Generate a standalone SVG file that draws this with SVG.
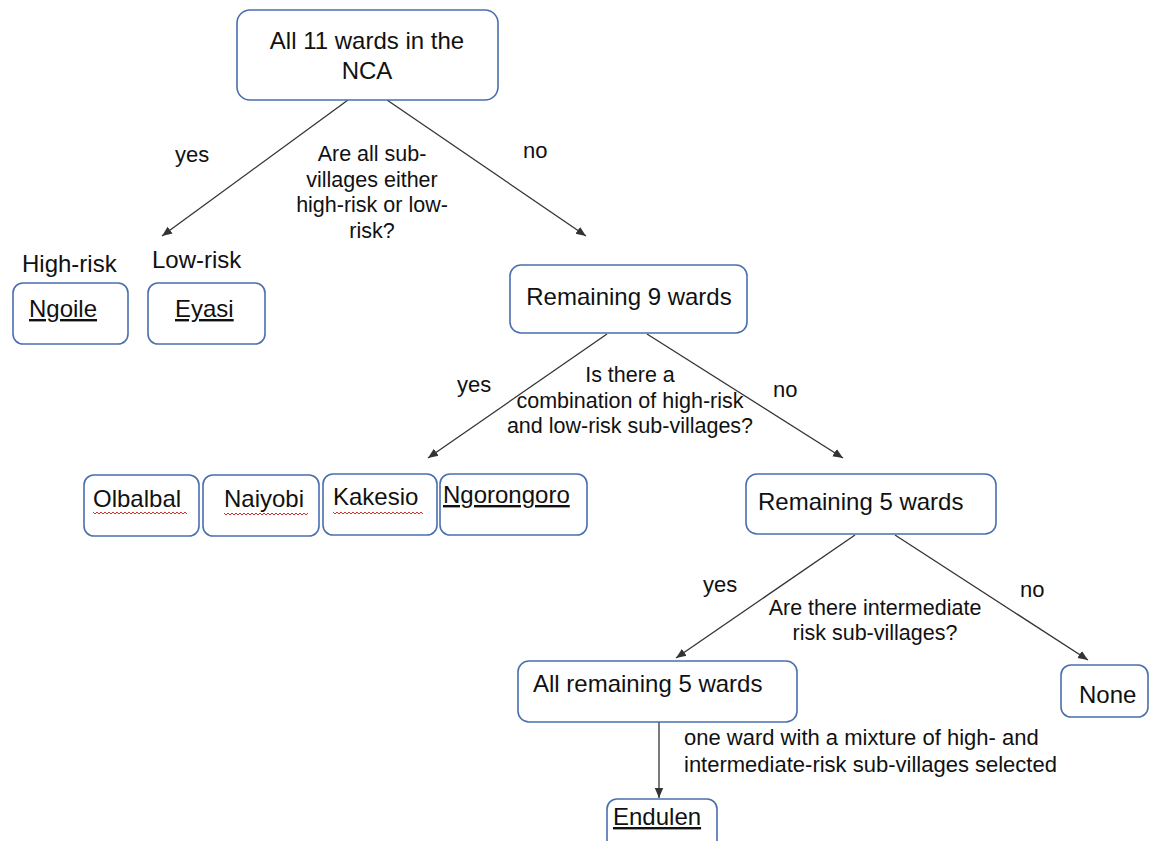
<svg xmlns="http://www.w3.org/2000/svg" width="1151" height="841" viewBox="0 0 1151 841">
  <style>
    .box { fill: #ffffff; stroke: #4a6fae; stroke-width: 1.6; }
    .lbl { font-family: "Liberation Sans", Arial, sans-serif; font-size: 24px; fill: #111111; }
    .q { font-family: "Liberation Sans", Arial, sans-serif; font-size: 21.5px; fill: #111111; text-anchor: middle; }
    .yn { font-family: "Liberation Sans", Arial, sans-serif; font-size: 22px; fill: #111111; }
    .ul { text-decoration: underline; }
    .edge { fill: none; stroke: #333333; stroke-width: 1.3; marker-end: url(#arr); }
    .spell { fill: none; stroke: #d9302a; stroke-width: 1; }
  </style>
  <defs>
    <marker id="arr" viewBox="0 0 10 10" refX="10" refY="5" markerWidth="10" markerHeight="10" markerUnits="userSpaceOnUse" orient="auto">
      <path d="M0,0.8 L10,5 L0,9.2 Z" fill="#333333"/>
    </marker>
  </defs>

  <rect width="1151" height="841" fill="#ffffff"/>

  <!-- connectors -->
  <g id="connectors">
    <line class="edge" x1="348" y1="100" x2="162" y2="236"/>
    <line class="edge" x1="387" y1="100" x2="586" y2="236"/>
    <line class="edge" x1="607" y1="334" x2="428" y2="458"/>
    <line class="edge" x1="647" y1="334" x2="843" y2="458"/>
    <line class="edge" x1="855" y1="535" x2="676" y2="658"/>
    <line class="edge" x1="895" y1="535" x2="1088" y2="660"/>
    <line class="edge" x1="659" y1="722" x2="659" y2="798"/>
  </g>

  <!-- branch labels and questions -->
  <g id="labels">
    <text class="yn" x="175" y="162">yes</text>
    <text class="yn" x="523" y="158">no</text>
    <text class="q" x="372" y="161">Are all sub-</text>
    <text class="q" x="372" y="187">villages either</text>
    <text class="q" x="372" y="212">high-risk or low-</text>
    <text class="q" x="372" y="238">risk?</text>

    <text class="yn" x="457" y="392">yes</text>
    <text class="yn" x="773" y="397">no</text>
    <text class="q" x="630" y="382">Is there a</text>
    <text class="q" x="630" y="408">combination of high-risk</text>
    <text class="q" x="630" y="433">and low-risk sub-villages?</text>

    <text class="yn" x="703" y="592">yes</text>
    <text class="yn" x="1020" y="597">no</text>
    <text class="q" x="875" y="615">Are there intermediate</text>
    <text class="q" x="875" y="640">risk sub-villages?</text>

    <text class="yn" x="684" y="745">one ward with a mixture of high- and</text>
    <text class="yn" x="684" y="772">intermediate-risk sub-villages selected</text>

    <text class="lbl" x="22" y="272">High-risk</text>
    <text class="lbl" x="152" y="268">Low-risk</text>
  </g>

  <!-- nodes -->
  <g id="node-all11">
    <rect class="box" x="237" y="10" width="261" height="90" rx="13"/>
    <text class="lbl" x="367" y="49" text-anchor="middle">All 11 wards in the</text>
    <text class="lbl" x="367" y="79" text-anchor="middle">NCA</text>
  </g>

  <g id="node-ngoile">
    <rect class="box" x="13" y="283" width="115" height="61" rx="10"/>
    <text class="lbl ul" x="29" y="317">Ngoile</text>
  </g>

  <g id="node-eyasi">
    <rect class="box" x="148" y="283" width="117" height="61" rx="10"/>
    <text class="lbl ul" x="175" y="317">Eyasi</text>
  </g>

  <g id="node-remaining9">
    <rect class="box" x="510" y="265" width="237" height="68" rx="11"/>
    <text class="lbl" x="629" y="305" text-anchor="middle">Remaining 9 wards</text>
  </g>

  <g id="node-olbalbal">
    <rect class="box" x="84" y="475" width="115" height="61" rx="10"/>
    <text class="lbl" x="93" y="507">Olbalbal</text>
    <path class="spell" d="M93,512 l2,2 l2,-2 l2,2 l2,-2 l2,2 l2,-2 l2,2 l2,-2 l2,2 l2,-2 l2,2 l2,-2 l2,2 l2,-2 l2,2 l2,-2 l2,2 l2,-2 l2,2 l2,-2 l2,2 l2,-2 l2,2 l2,-2 l2,2 l2,-2 l2,2 l2,-2 l2,2 l2,-2 l2,2 l2,-2 l2,2 l2,-2 l2,2 l2,-2 l2,2 l2,-2 l2,2 l2,-2 l2,2 l2,-2 l2,2 l2,-2 l2,2 l2,-2 l2,2"/>
  </g>

  <g id="node-naiyobi">
    <rect class="box" x="203" y="475" width="116" height="61" rx="10"/>
    <text class="lbl" x="224" y="507">Naiyobi</text>
    <path class="spell" d="M224,513 l2,2 l2,-2 l2,2 l2,-2 l2,2 l2,-2 l2,2 l2,-2 l2,2 l2,-2 l2,2 l2,-2 l2,2 l2,-2 l2,2 l2,-2 l2,2 l2,-2 l2,2 l2,-2 l2,2 l2,-2 l2,2 l2,-2 l2,2 l2,-2 l2,2 l2,-2 l2,2 l2,-2 l2,2 l2,-2 l2,2 l2,-2 l2,2 l2,-2 l2,2 l2,-2 l2,2 l2,-2 l2,2 l2,-2"/>
  </g>

  <g id="node-kakesio">
    <rect class="box" x="323" y="474" width="114" height="61" rx="10"/>
    <text class="lbl" x="333" y="505">Kakesio</text>
    <path class="spell" d="M333,512 l2,2 l2,-2 l2,2 l2,-2 l2,2 l2,-2 l2,2 l2,-2 l2,2 l2,-2 l2,2 l2,-2 l2,2 l2,-2 l2,2 l2,-2 l2,2 l2,-2 l2,2 l2,-2 l2,2 l2,-2 l2,2 l2,-2 l2,2 l2,-2 l2,2 l2,-2 l2,2 l2,-2 l2,2 l2,-2 l2,2 l2,-2 l2,2 l2,-2 l2,2 l2,-2 l2,2 l2,-2 l2,2 l2,-2 l2,2 l2,-2 l2,2"/>
  </g>

  <g id="node-ngorongoro">
    <rect class="box" x="440" y="474" width="147" height="61" rx="10"/>
    <text class="lbl ul" x="443" y="503">Ngorongoro</text>
  </g>

  <g id="node-remaining5">
    <rect class="box" x="746" y="474" width="250" height="60" rx="11"/>
    <text class="lbl" x="758" y="510">Remaining 5 wards</text>
  </g>

  <g id="node-allremaining5">
    <rect class="box" x="518" y="661" width="279" height="61" rx="11"/>
    <text class="lbl" x="533" y="692">All remaining 5 wards</text>
  </g>

  <g id="node-none">
    <rect class="box" x="1061" y="665" width="87" height="52" rx="10"/>
    <text class="lbl" x="1079" y="703">None</text>
  </g>

  <g id="node-endulen">
    <rect class="box" x="607" y="799" width="110" height="60" rx="10"/>
    <text class="lbl ul" x="613" y="825">Endulen</text>
  </g>
</svg>
